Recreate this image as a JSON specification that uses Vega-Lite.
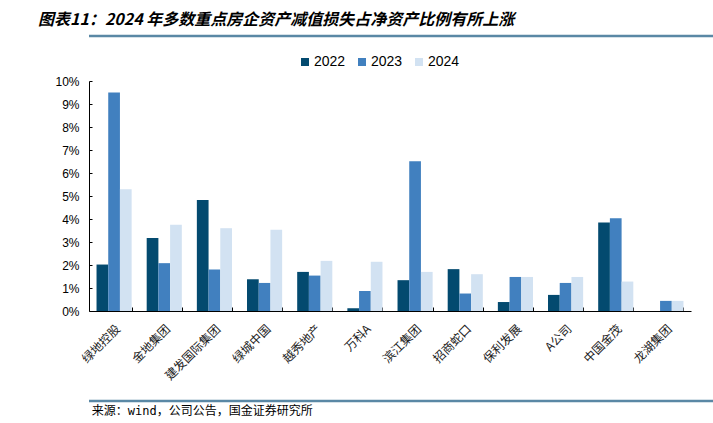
{
  "$schema": "https://vega.github.io/schema/vega-lite/v6.json",
  "padding": {"left": 33, "top": 11, "right": 5, "bottom": 0},
  "background": "white",
  "config": {
    "view": {"stroke": null},
    "font": "Liberation Sans",
    "title": {"font": "Noto Sans CJK SC", "color": "#000000"}
  },
  "title": {"text": "图表11：2024 年多数重点房企资产减值损失占净资产比例有所上涨", "anchor": "start", "frame": "bounds", "fontSize": 16, "fontStyle": "italic", "fontWeight": "bold", "dx": 5, "offset": 7},
  "columns": 1,
  "align": "none",
  "spacing": 17,
  "resolve": {"legend": {"color": "independent"}},
  "concat": [
    {
      "width": 660,
      "height": 2,
      "data": {"values": [{"a": 1}]},
      "mark": {"type": "rule", "color": "#5a88a5", "strokeWidth": 2.5},
      "encoding": {"y": {"datum": 0, "type": "quantitative", "scale": {"domain": [-1, 1]}, "axis": null}}
    },
    {
      "width": 602,
      "height": 230,
      "data": {
        "values": [
          {"company": "绿地控股", "year": "2022", "value": 2.02},
          {"company": "绿地控股", "year": "2023", "value": 9.5},
          {"company": "绿地控股", "year": "2024", "value": 5.29},
          {"company": "金地集团", "year": "2022", "value": 3.17},
          {"company": "金地集团", "year": "2023", "value": 2.08},
          {"company": "金地集团", "year": "2024", "value": 3.75},
          {"company": "建发国际集团", "year": "2022", "value": 4.83},
          {"company": "建发国际集团", "year": "2023", "value": 1.80},
          {"company": "建发国际集团", "year": "2024", "value": 3.60},
          {"company": "绿城中国", "year": "2022", "value": 1.38},
          {"company": "绿城中国", "year": "2023", "value": 1.22},
          {"company": "绿城中国", "year": "2024", "value": 3.53},
          {"company": "越秀地产", "year": "2022", "value": 1.70},
          {"company": "越秀地产", "year": "2023", "value": 1.54},
          {"company": "越秀地产", "year": "2024", "value": 2.18},
          {"company": "万科A", "year": "2022", "value": 0.12},
          {"company": "万科A", "year": "2023", "value": 0.87},
          {"company": "万科A", "year": "2024", "value": 2.14},
          {"company": "滨江集团", "year": "2022", "value": 1.34},
          {"company": "滨江集团", "year": "2023", "value": 6.51},
          {"company": "滨江集团", "year": "2024", "value": 1.70},
          {"company": "招商蛇口", "year": "2022", "value": 1.82},
          {"company": "招商蛇口", "year": "2023", "value": 0.76},
          {"company": "招商蛇口", "year": "2024", "value": 1.60},
          {"company": "保利发展", "year": "2022", "value": 0.39},
          {"company": "保利发展", "year": "2023", "value": 1.48},
          {"company": "保利发展", "year": "2024", "value": 1.48},
          {"company": "A公司", "year": "2022", "value": 0.70},
          {"company": "A公司", "year": "2023", "value": 1.22},
          {"company": "A公司", "year": "2024", "value": 1.48},
          {"company": "中国金茂", "year": "2022", "value": 3.85},
          {"company": "中国金茂", "year": "2023", "value": 4.03},
          {"company": "中国金茂", "year": "2024", "value": 1.28},
          {"company": "龙湖集团", "year": "2023", "value": 0.44},
          {"company": "龙湖集团", "year": "2024", "value": 0.44}
        ]
      },
      "mark": {"type": "bar"},
      "encoding": {
        "x": {
          "field": "company", "type": "nominal", "sort": null,
          "scale": {"paddingInner": 0.3, "paddingOuter": 0.15},
          "axis": {
            "title": null, "labelAngle": -45, "labelAlign": "right", "labelBaseline": "top",
            "labelFont": "Noto Sans CJK SC", "labelFontSize": 12, "labelColor": "#222222",
            "labelPadding": 16, "tickBand": "extent", "tickSize": -4, "tickColor": "#000000",
            "domainColor": "#000000", "grid": false
          }
        },
        "xOffset": {"field": "year", "type": "nominal", "scale": {"paddingInner": 0, "paddingOuter": 0}},
        "y": {
          "field": "value", "type": "quantitative",
          "scale": {"domain": [0, 10], "nice": false},
          "axis": {
            "title": null, "values": [0, 1, 2, 3, 4, 5, 6, 7, 8, 9, 10],
            "labelExpr": "datum.value + '%'", "labelFontSize": 12, "labelColor": "#000000",
            "labelFont": "Liberation Sans", "grid": false, "domainColor": "#000000",
            "tickColor": "#000000", "tickSize": -3, "labelPadding": 13, "minExtent": 56
          }
        },
        "color": {
          "field": "year", "type": "nominal",
          "scale": {"domain": ["2022", "2023", "2024"], "range": ["#034a6f", "#4180bf", "#d2e2f2"]},
          "legend": {
            "title": null, "orient": "none", "direction": "horizontal",
            "legendX": 209, "legendY": -26, "symbolType": "square", "symbolSize": 64,
            "symbolStrokeWidth": 0, "labelFontSize": 14, "labelFont": "Liberation Sans",
            "labelColor": "#000000", "labelOffset": 2, "columnPadding": 9
          }
        }
      }
    },
    {
      "width": 660,
      "height": 2,
      "title": {"text": "来源：wind，公司公告，国金证券研究所", "orient": "bottom", "anchor": "start", "fontSize": 12, "fontWeight": "normal", "font": "DejaVu Sans Mono, Noto Sans CJK SC", "dx": 4, "offset": 4},
      "data": {"values": [{"a": 1}]},
      "mark": {"type": "rule", "color": "#5a88a5", "strokeWidth": 2.5},
      "encoding": {"y": {"datum": 0, "type": "quantitative", "scale": {"domain": [-1, 1]}, "axis": null}}
    }
  ]
}
